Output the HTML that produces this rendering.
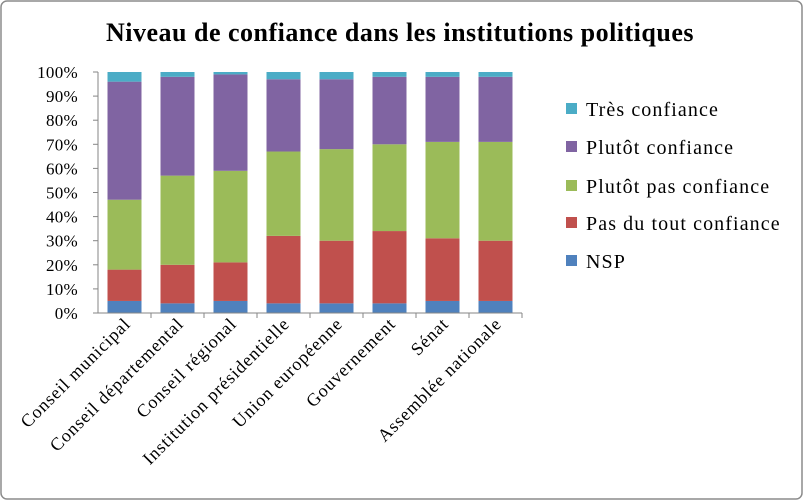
<!DOCTYPE html>
<html><head><meta charset="utf-8"><style>
body{margin:0;background:#fff}
svg{display:block;font-family:"Liberation Serif",serif}
</style></head><body>
<svg id="chart" width="804" height="501">
<rect x="1" y="1" width="801" height="498" rx="6" fill="#fff" stroke="#8c8c8c" stroke-width="1.5"/>
<text x="400" y="41" text-anchor="middle" font-size="26" font-weight="bold" letter-spacing="0.5">Niveau de confiance dans les institutions  politiques</text>
<g id="plot"></g>
</svg>
<script>
const categories=["Conseil municipal","Conseil départemental","Conseil régional","Institution présidentielle","Union européenne","Gouvernement","Sénat","Assemblée nationale"];
const seriesNames=["NSP","Pas du tout confiance","Plutôt pas confiance","Plutôt confiance","Très confiance"];
const nsp=[5,4,5,4,4,4,5,5];
const pasDuTout=[13,16,16,28,26,30,26,25];
const plutotPas=[29,37,38,35,38,36,40,41];
const plutot=[49,41,40,30,29,28,27,27];
const tres=[4,2,1,3,3,2,2,2];
const yTicks=["0%","10%","20%","30%","40%","50%","60%","70%","80%","90%","100%"];
const colors=["#4F81BD","#C0504D","#9BBB59","#8064A2","#4BACC6"];
const series=[nsp,pasDuTout,plutotPas,plutot,tres];
const NS="http://www.w3.org/2000/svg";
const g=document.getElementById('plot');
const x0=98,x1=522,yB=313,yT=72;
const y=v=>yB-(v/100)*(yB-yT);
const band=(x1-x0)/categories.length;
const xc=i=>x0+band*(i+0.5);
function mk(t,a,p){const e=document.createElementNS(NS,t);for(const k in a)e.setAttribute(k,a[k]);(p||g).appendChild(e);return e;}
yTicks.forEach((t,i)=>{
 const v=i*10;
 const tx=mk('text',{x:78,y:y(v)+6,'text-anchor':'end','font-size':17,'letter-spacing':0.3});
 tx.textContent=t;
 
 
 const tk=mk('line',{x1:x0-5,x2:x0,y1:y(v),y2:y(v),stroke:'#868686'});
 
 
});
categories.forEach((c,i)=>{
 let acc=0;
 series.forEach((s,k)=>{
  const v=s[i];
  const r=mk('rect',{x:xc(i)-17,width:34,y:y(acc+v),height:y(acc)-y(acc+v),fill:colors[k]});
  
  
  acc+=v;
 });
 const tk=mk('line',{x1:x0+band*(i+1),x2:x0+band*(i+1),y1:yB,y2:yB+5,stroke:'#868686'});
 
 
 const lx=xc(i)+7,ly=yB+12;
 const t=mk('text',{x:lx,y:ly,'text-anchor':'end','font-size':18,'letter-spacing':0.9,transform:`rotate(-45 ${lx} ${ly})`});
 t.textContent=c;
 
 
});
const ax=mk('line',{x1:x0,x2:x0,y1:yT,y2:yB,stroke:'#868686'});


const bx=mk('line',{x1:x0-5,x2:x1,y1:yB,y2:yB,stroke:'#868686'});


const ly=[261,223,186,147,109];
seriesNames.forEach((n,k)=>{
 const sq=mk('rect',{x:566,y:ly[k]-6,width:11,height:11,fill:colors[k]});
 
 
 const t=mk('text',{x:586,y:ly[k]+7,'font-size':20,'letter-spacing':1.1});
 t.textContent=n;
 
 
});
</script>
</body></html>
